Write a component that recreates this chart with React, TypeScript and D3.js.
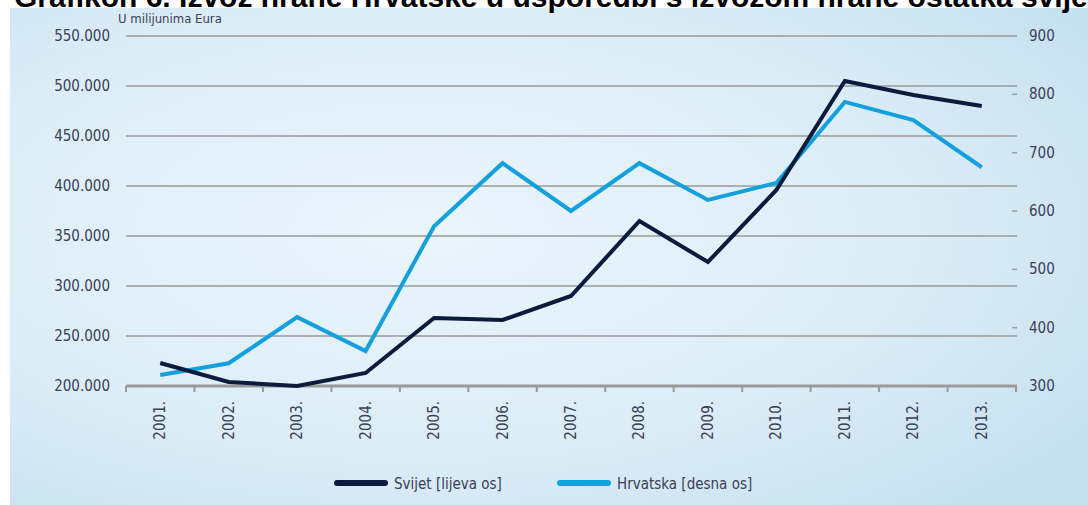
import { useEffect, useRef } from 'react';
import * as d3 from 'd3';

const YEARS = ['2001.', '2002.', '2003.', '2004.', '2005.', '2006.', '2007.', '2008.', '2009.', '2010.', '2011.', '2012.', '2013.'];
const SVIJET = [223000, 204000, 200000, 213000, 268000, 266000, 290000, 365000, 324000, 396000, 505000, 491000, 480000];
const HRVATSKA = [319, 339, 418, 360, 574, 682, 600, 682, 619, 648, 787, 756, 675];
const LEFT_TICKS = [200000, 250000, 300000, 350000, 400000, 450000, 500000, 550000];
const RIGHT_TICKS = [300, 400, 500, 600, 700, 800, 900];

const TITLE = 'Grafikon 6. Izvoz hrane Hrvatske u usporedbi s izvozom hrane ostatka svijeta';
const DARK = '#0c1a3d';
const LIGHT = '#14a0dc';
const FONT = "'Liberation Sans Narrow', 'DejaVu Sans Condensed', 'Liberation Sans', sans-serif";
const TEXT = '#3b4058';

const W = 1088;
const H = 505;
const M = { top: 36, bottom: 386, left: 126, right: 1016 };

export default function App() {
  const svgRef = useRef<SVGSVGElement>(null);

  useEffect(() => {
    const svg = d3.select(svgRef.current);
    svg.selectAll('*').remove();

    const x = d3.scaleBand().domain(YEARS).range([M.left, M.right]);
    const yL = d3.scaleLinear().domain([200000, 550000]).range([M.bottom, M.top]);
    const yR = d3.scaleLinear().domain([300, 900]).range([M.bottom, M.top]);
    const fmt = d3.formatLocale({ decimal: ',', thousands: '.', grouping: [3], currency: ['', ''] }).format(',d');

    // background panel
    const defs = svg.append('defs');
    const grad = defs.append('radialGradient').attr('id', 'bg')
      .attr('cx', '38%').attr('cy', '45%').attr('r', '75%');
    grad.append('stop').attr('offset', '0%').attr('stop-color', '#eaf5fb');
    grad.append('stop').attr('offset', '60%').attr('stop-color', '#dcedf7');
    grad.append('stop').attr('offset', '100%').attr('stop-color', '#c6e0ef');
    svg.append('rect').attr('x', 10).attr('y', 8).attr('width', W - 10).attr('height', H - 8).attr('fill', 'url(#bg)');

    // title, cut off by the top edge as in the source page
    svg.append('text').attr('x', 14).attr('y', 7)
      .attr('font-family', "'Liberation Sans', Arial, sans-serif").attr('font-weight', 700).attr('font-size', 30)
      .attr('fill', '#000').text(TITLE);

    // unit label
    svg.append('text').attr('x', 118).attr('y', 23).attr('font-family', FONT).attr('font-size', 13)
      .attr('fill', TEXT).text('U milijunima Eura');

    // gridlines and left labels
    LEFT_TICKS.forEach(t => {
      if (t !== 200000) {
        svg.append('line').attr('x1', M.left).attr('x2', M.right + 1).attr('y1', yL(t)).attr('y2', yL(t))
          .attr('stroke', '#9a9a9a').attr('stroke-width', 1.5);
      }
      svg.append('text').attr('x', 110).attr('y', yL(t) + 5).attr('text-anchor', 'end')
        .attr('font-family', FONT).attr('font-size', 15).attr('fill', TEXT).text(fmt(t));
    });

    // right labels and small dashes
    RIGHT_TICKS.forEach(t => {
      if (t !== 300 && t !== 900) {
        svg.append('line').attr('x1', 1012).attr('x2', 1017).attr('y1', yR(t)).attr('y2', yR(t))
          .attr('stroke', '#9a9a9a').attr('stroke-width', 1.5);
      }
      svg.append('text').attr('x', 1029).attr('y', yR(t) + 5)
        .attr('font-family', FONT).attr('font-size', 15).attr('fill', TEXT).text(t);
    });

    // x axis
    svg.append('line').attr('x1', M.left).attr('x2', M.right + 1).attr('y1', M.bottom).attr('y2', M.bottom)
      .attr('stroke', '#9a9a9a').attr('stroke-width', 3);
    const bounds = YEARS.map(d => x(d) as number).concat([M.right]);
    bounds.forEach(b => {
      svg.append('line').attr('x1', b).attr('x2', b).attr('y1', M.bottom).attr('y2', M.bottom + 6)
        .attr('stroke', '#9a9a9a').attr('stroke-width', 2);
    });
    YEARS.forEach(d => {
      const cx = (x(d) as number) + x.bandwidth() / 2;
      svg.append('text').attr('transform', `translate(${cx + 5},401) rotate(-90)`)
        .attr('text-anchor', 'end').attr('font-family', FONT).attr('font-size', 15)
        .attr('fill', TEXT).text(d);
    });

    // lines
    const cxOf = (i: number) => (x(YEARS[i]) as number) + x.bandwidth() / 2;
    const lineL = d3.line<number>().x((_, i) => cxOf(i)).y(v => yL(v));
    const lineR = d3.line<number>().x((_, i) => cxOf(i)).y(v => yR(v));
    svg.append('path').attr('d', lineR(HRVATSKA)).attr('fill', 'none').attr('stroke', LIGHT)
      .attr('stroke-width', 4).attr('stroke-linejoin', 'miter');
    svg.append('path').attr('d', lineL(SVIJET)).attr('fill', 'none').attr('stroke', DARK)
      .attr('stroke-width', 4).attr('stroke-linejoin', 'miter');

    // legend
    const legend = [
      { label: 'Svijet [lijeva os]', color: DARK, x: 337 },
      { label: 'Hrvatska [desna os]', color: LIGHT, x: 560 },
    ];
    legend.forEach(l => {
      svg.append('line').attr('x1', l.x).attr('x2', l.x + 48).attr('y1', 483).attr('y2', 483)
        .attr('stroke', l.color).attr('stroke-width', 6).attr('stroke-linecap', 'round');
      svg.append('text').attr('x', l.x + 57).attr('y', 489).attr('font-family', FONT).attr('font-size', 15)
        .attr('fill', TEXT).text(l.label);
    });
  }, []);

  return (
    <div style={{ position: 'absolute', top: 0, left: 0 }}>
      <svg ref={svgRef} width={W} height={H} style={{ display: 'block' }} />
    </div>
  );
}
